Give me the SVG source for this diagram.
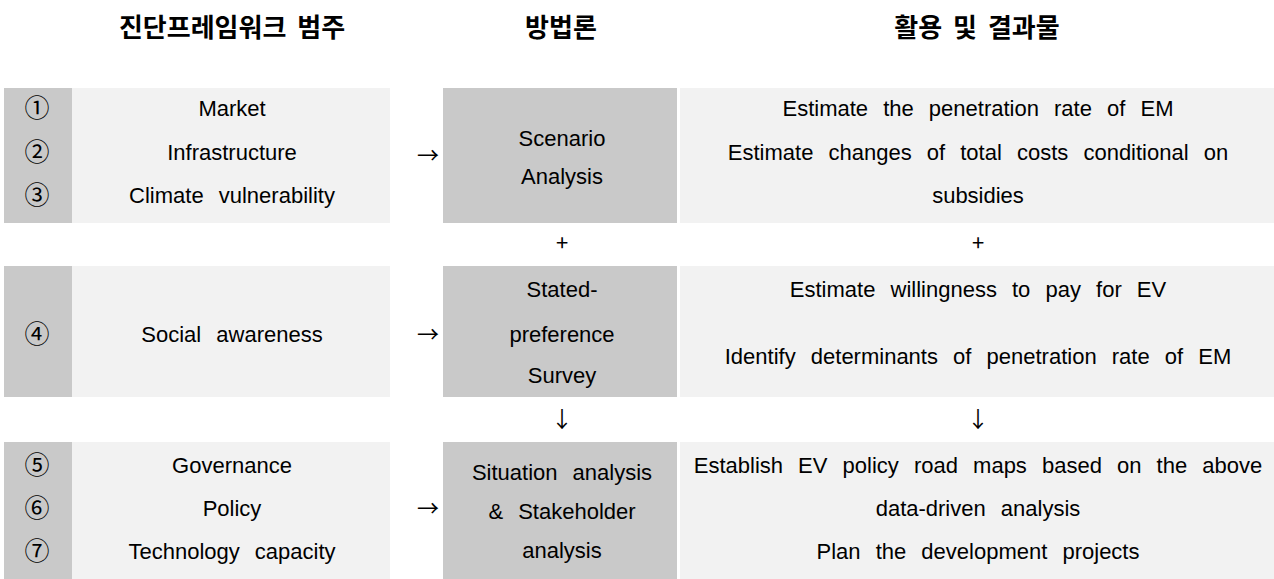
<svg xmlns="http://www.w3.org/2000/svg" width="1274" height="579" viewBox="0 0 1274 579">
  <style>
    .num { fill: #c9c9c9; }
    .cell { fill: #f2f2f2; }
    .method { fill: #c9c9c9; }
    .hdr { font-family: "Noto Sans CJK KR", sans-serif; font-weight: bold; font-size: 26px; fill: #000; text-anchor: middle; word-spacing: 5px; }
    .t { font-family: "Liberation Sans", Arial, sans-serif; font-size: 22px; fill: #000; text-anchor: middle; word-spacing: 9px; }
    .circ { font-family: "Noto Sans CJK KR", "DejaVu Sans", sans-serif; font-size: 25px; fill: #000; text-anchor: middle; }
    .sym { font-family: "Noto Sans CJK KR", "DejaVu Sans", sans-serif; font-size: 22px; fill: #000; text-anchor: middle; }
  </style>
  <rect width="1274" height="579" fill="#ffffff"/>

  <!-- column headers -->
  <g id="headers">
    <text class="hdr" x="232" y="37">진단프레임워크 범주</text>
    <text class="hdr" x="561" y="37">방법론</text>
    <text class="hdr" x="977" y="37">활용 및 결과물</text>
  </g>

  <!-- row 1 -->
  <g id="category-1">
    <rect class="num" x="4" y="88" width="68" height="135"/>
    <rect class="cell" x="72" y="88" width="318" height="135"/>
    <text class="circ" x="37" y="117">①</text>
    <text class="circ" x="37" y="161">②</text>
    <text class="circ" x="37" y="204">③</text>
    <text class="t" x="232" y="116">Market</text>
    <text class="t" x="232" y="160">Infrastructure</text>
    <text class="t" x="232" y="203">Climate vulnerability</text>
  </g>
  <g id="method-1">
    <rect class="method" x="443" y="88" width="234" height="135"/>
    <text class="t" x="562" y="146">Scenario</text>
    <text class="t" x="562" y="184">Analysis</text>
  </g>
  <g id="result-1">
    <rect class="cell" x="680" y="88" width="594" height="135"/>
    <text class="t" x="978" y="116">Estimate the penetration rate of EM</text>
    <text class="t" x="978" y="160">Estimate changes of total costs conditional on</text>
    <text class="t" x="978" y="203">subsidies</text>
  </g>

  <!-- row 2 -->
  <g id="category-2">
    <rect class="num" x="4" y="266" width="68" height="131"/>
    <rect class="cell" x="72" y="266" width="318" height="131"/>
    <text class="circ" x="37" y="343">④</text>
    <text class="t" x="232" y="342">Social awareness</text>
  </g>
  <g id="method-2">
    <rect class="method" x="443" y="266" width="234" height="131"/>
    <text class="t" x="562" y="297">Stated-</text>
    <text class="t" x="562" y="342">preference</text>
    <text class="t" x="562" y="383">Survey</text>
  </g>
  <g id="result-2">
    <rect class="cell" x="680" y="266" width="594" height="131"/>
    <text class="t" x="978" y="297">Estimate willingness to pay for EV</text>
    <text class="t" x="978" y="364">Identify determinants of penetration rate of EM</text>
  </g>

  <!-- row 3 -->
  <g id="category-3">
    <rect class="num" x="4" y="442" width="68" height="137"/>
    <rect class="cell" x="72" y="442" width="318" height="137"/>
    <text class="circ" x="37" y="474">⑤</text>
    <text class="circ" x="37" y="517">⑥</text>
    <text class="circ" x="37" y="560">⑦</text>
    <text class="t" x="232" y="473">Governance</text>
    <text class="t" x="232" y="516">Policy</text>
    <text class="t" x="232" y="559">Technology capacity</text>
  </g>
  <g id="method-3">
    <rect class="method" x="443" y="442" width="234" height="137"/>
    <text class="t" x="562" y="480">Situation analysis</text>
    <text class="t" x="562" y="519">&amp; Stakeholder</text>
    <text class="t" x="562" y="558">analysis</text>
  </g>
  <g id="result-3">
    <rect class="cell" x="680" y="442" width="594" height="137"/>
    <text class="t" x="978" y="473">Establish EV policy road maps based on the above</text>
    <text class="t" x="978" y="516">data-driven analysis</text>
    <text class="t" x="978" y="559">Plan the development projects</text>
  </g>

  <!-- connectors between columns and rows -->
  <g id="connectors">
    <text class="sym" x="428" y="163">→</text>
    <text class="sym" x="428" y="342">→</text>
    <text class="sym" x="428" y="516">→</text>
    <text class="sym" x="562" y="251">+</text>
    <text class="sym" x="978" y="251">+</text>
    <text class="sym" x="562" y="427">↓</text>
    <text class="sym" x="978" y="427">↓</text>
  </g>
</svg>
